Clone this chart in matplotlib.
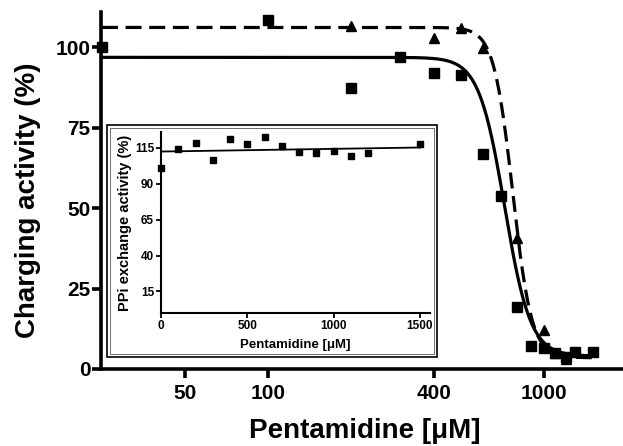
import numpy as np
import matplotlib.pyplot as plt
from matplotlib.patches import Rectangle

plt.rcParams['font.family'] = ['Liberation Sans', 'DejaVu Sans']
plt.rcParams['font.weight'] = 'bold'

# main panel: charging activity vs pentamidine (log axis)
conc_sq = [25, 100, 200, 300, 400, 500, 600, 700, 800, 900, 1000, 1100, 1200, 1300, 1500]
act_sq = [100, 108.4, 87.3, 96.9, 91.9, 91.3, 67, 53.7, 19.3, 7.1, 6.5, 5.0, 3.7, 5.3, 5.3]
conc_tri = [200, 400, 500, 600, 800, 1000, 1100, 1200]
act_tri = [106.8, 102.8, 105.9, 99.7, 40.7, 12.2, 5.0, 3.0]

# dose-response fit parameters (top, bottom, IC50, hill)
fit_sq = (96.9, 4.0, 720, 9.3)
fit_tri = (106.2, 3.5, 770, 12.6)

xticks_main = [50, 100, 400, 1000]
yticks_main = [0, 25, 50, 75, 100]

# inset: PPi exchange activity (linear axis)
conc_in = [0, 100, 200, 300, 400, 500, 600, 700, 800, 900, 1000, 1100, 1200, 1500]
act_in = [100.8, 114.3, 118.3, 106.6, 121, 117.6, 122.2, 116.6, 112, 111.5, 112.7, 109.2, 111.5, 117.6]
line_in = (112.4, 0.00187)  # intercept, slope
xticks_in = [0, 500, 1000, 1500]
yticks_in = [15, 40, 65, 90, 115]


def logistic(x, top, bottom, ic50, hill):
    return bottom + (top - bottom) / (1 + (x / ic50) ** hill)


W, H = 623, 446
fig = plt.figure(figsize=(W / 100, H / 100), dpi=100)

ax = fig.add_axes([101 / W, 1 - 369 / H, (W - 101) / W, (369 - 12) / H])
ax.set_xscale('log')
ax.set_xlim(24.8, 1933)
ax.set_ylim(0, 111)

xs = np.logspace(np.log10(25), np.log10(1500), 400)
ax.plot(xs, logistic(xs, *fit_sq), c='k', lw=2.3, zorder=3)
ax.plot(xs, logistic(xs, *fit_tri), c='k', lw=2.3, ls=(0, (5, 2.4)), zorder=3)
ax.plot(conc_sq, act_sq, ls='', marker='s', ms=7, c='k', zorder=4, clip_on=False)
ax.plot(conc_tri, act_tri, ls='', marker='^', ms=7, c='k', zorder=4, clip_on=False)

for s in ['top', 'right']:
    ax.spines[s].set_visible(False)
for s in ['left', 'bottom']:
    ax.spines[s].set_linewidth(2.6)
ax.set_xticks(xticks_main)
ax.set_xticklabels([str(t) for t in xticks_main])
ax.xaxis.set_minor_locator(plt.NullLocator())
ax.set_yticks(yticks_main)
ax.tick_params(axis='both', width=2.6, length=6.5, labelsize=15)
ax.tick_params(axis='x', pad=4)
ax.tick_params(axis='y', pad=1)
fig.text(365 / W, 1 - 431 / H, 'Pentamidine [\u03bcM]', fontsize=20, fontweight='bold',
         ha='center', va='center')
fig.text(28 / W, 1 - 200 / H, 'Charging activity (%)', fontsize=20, fontweight='bold',
         ha='center', va='center', rotation=90)

# inset frame
fig.patches.append(Rectangle((107 / W, 1 - 357 / H), (437 - 107) / W, (357 - 125) / H,
                             transform=fig.transFigure, fill=True, fc='white', ec='k', lw=1.2, zorder=5))
fig.patches.append(Rectangle((110 / W, 1 - 354 / H), (434 - 110) / W, (354 - 128) / H,
                             transform=fig.transFigure, fill=False, ec='#555555', lw=0.6, zorder=5))

axi = fig.add_axes([161 / W, 1 - 313 / H, (430 - 161) / W, (313 - 132) / H], zorder=6)
axi.patch.set_alpha(0)
axi.set_xlim(0, 1558)
axi.set_ylim(0, 126)
xl = np.array([0, 1500])
axi.plot(xl, line_in[0] + line_in[1] * xl, c='k', lw=1.3)
axi.plot(conc_in, act_in, ls='', marker='s', ms=4, c='k', clip_on=False)
for s in ['top', 'right']:
    axi.spines[s].set_visible(False)
for s in ['left', 'bottom']:
    axi.spines[s].set_linewidth(1.5)
axi.set_xticks(xticks_in)
axi.set_yticks(yticks_in)
axi.tick_params(axis='both', width=1.3, length=3.5, labelsize=8.5, pad=1.5)
axi.set_xlabel('Pentamidine [\u03bcM]', fontsize=9.5, fontweight='bold', labelpad=5)
axi.set_ylabel('PPi exchange activity (%)', fontsize=10.5, fontweight='bold', labelpad=2)

fig.savefig('out.png', dpi=100)
